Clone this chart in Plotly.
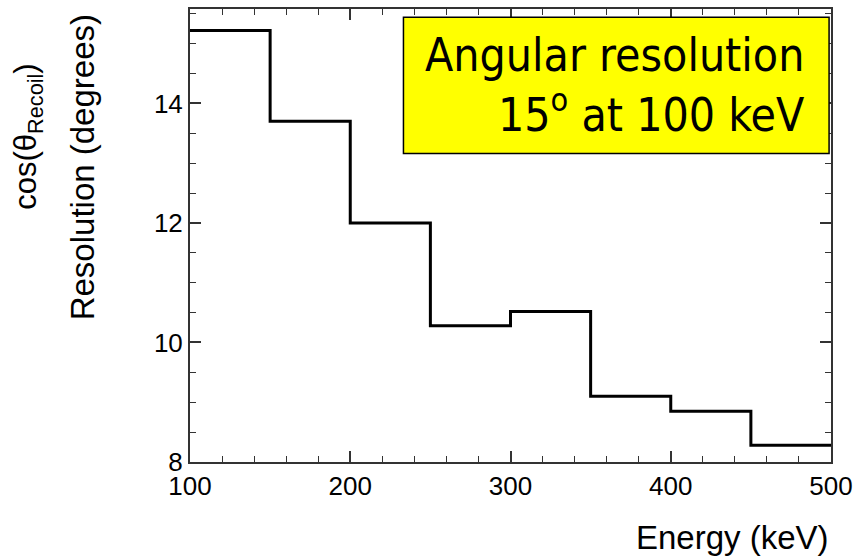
import plotly.graph_objects as go

# Bin edges (keV) and angular resolution per bin (degrees)
bin_edges = [100, 150, 200, 250, 300, 350, 400, 450, 500]
resolution = [15.22, 13.70, 12.00, 10.28, 10.52, 9.10, 8.85, 8.28]

box_lines = ["Angular resolution", "15<sup>o</sup> at 100 keV"]

# step histogram: repeat last value so the final bin gets drawn
step_y = resolution + [resolution[-1]]

fig = go.Figure()
fig.add_trace(go.Scatter(x=bin_edges, y=step_y, mode="lines",
                         line=dict(shape="hv", color="black", width=3),
                         showlegend=False, hoverinfo="skip"))

tick_font = dict(family="Liberation Sans, Arial, sans-serif", size=26, color="black")

fig.update_xaxes(range=[100, 500], dtick=100, ticks="inside", ticklen=11,
                 tickwidth=1.5, tickcolor="#333", showline=True, linecolor="#333",
                 linewidth=2, mirror="ticks", showgrid=False, zeroline=False,
                 tickfont=tick_font,
                 minor=dict(dtick=20, ticks="inside", ticklen=6, tickcolor="#333",
                            tickwidth=1.2, showgrid=False))
fig.update_yaxes(range=[8, 15.58], tickvals=[8, 10, 12, 14], ticks="inside",
                 ticklen=11, tickwidth=1.5, tickcolor="#333", showline=True,
                 linecolor="#333", linewidth=2, mirror="ticks", showgrid=False,
                 zeroline=False, tickfont=tick_font,
                 minor=dict(dtick=0.5, ticks="inside", ticklen=6, tickcolor="#333",
                            tickwidth=1.2, showgrid=False))

title_font = dict(family="Liberation Sans, Arial, sans-serif", size=33, color="black")

fig.add_annotation(text="Energy (keV)", xref="paper", yref="paper", x=1, y=0,
                   xanchor="right", yanchor="middle", yshift=-75, showarrow=False,
                   font=title_font)
fig.add_annotation(text="Resolution (degrees)", xref="paper", yref="paper",
                   x=0, y=0.6505, xanchor="center", yanchor="middle", xshift=-108,
                   textangle=-90, showarrow=False, font=title_font)
fig.add_annotation(text="cos(θ<sub>Recoil</sub>)", xref="paper", yref="paper",
                   x=0, y=0.718, xanchor="center", yanchor="middle", xshift=-162,
                   textangle=-90, showarrow=False,
                   font=dict(family="Liberation Sans, Arial, sans-serif", size=31,
                             color="black"))

# yellow label box
fig.add_shape(type="rect", xref="paper", yref="paper", x0=0.333, x1=0.997,
              y0=0.681, y1=0.982, fillcolor="#ffff00",
              line=dict(color="black", width=1.5), layer="above")
fig.add_annotation(text="<br>".join(box_lines), xref="paper", yref="paper",
                   x=0.961, y=0.833, xanchor="right", yanchor="middle", align="right",
                   showarrow=False,
                   font=dict(family="DejaVu Sans Condensed, DejaVu Sans, sans-serif",
                             size=46, color="black"))

fig.update_layout(width=860, height=556, margin=dict(l=190, r=27, t=7, b=94),
                  plot_bgcolor="white", paper_bgcolor="white")

fig.write_html("out.html", config={"displayModeBar": False},
               post_script="document.body.style.margin='0px';")
